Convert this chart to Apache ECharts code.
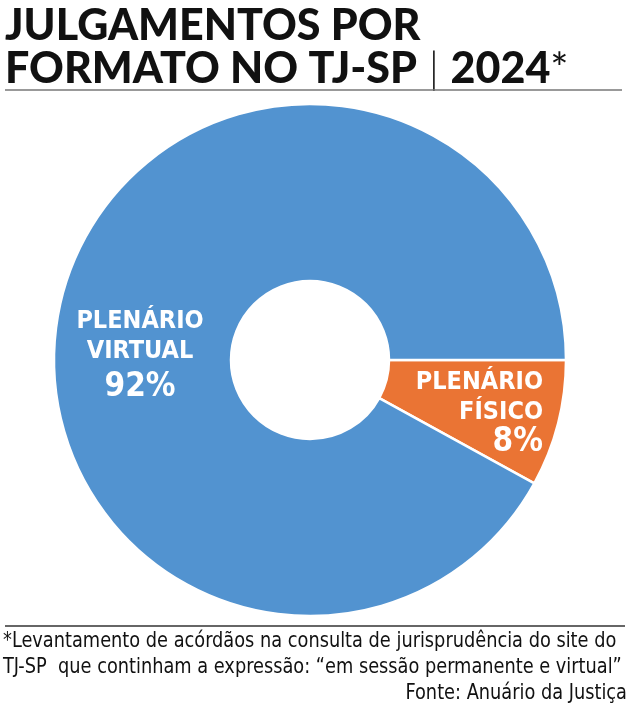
<!DOCTYPE html>
<html><head><meta charset="utf-8">
<script src="https://cdn.jsdelivr.net/npm/echarts@6/dist/echarts.min.js"></script>
<style>html,body{margin:0;padding:0;background:#fff}#c{width:634px;height:720px}</style>
</head><body><div id="c"></div>
<script>
const titleLine1 = 'JULGAMENTOS POR';
const titleLine2 = ['FORMATO NO TJ-SP', '|', '2024', '*'];
const categories = ['PLENÁRIO\nFÍSICO', 'PLENÁRIO\nVIRTUAL'];
const values = [8, 92];
const colors = ['#EA7434', '#5293D0'];
const footLines = ['*Levantamento de acórdãos na consulta de jurisprudência do site do', 'TJ-SP  que continham a expressão: “em sessão permanente e virtual”'];
const sourceText = 'Fonte: Anuário da Justiça';

const labelPos = [
  {x: 543, y: 412, align: 'right', pctLH: 30},
  {x: 140, y: 357, align: 'center', pctLH: 42}
];
const COND = '"DejaVu Sans Condensed"';
const FS = 0.94;

const chart = echarts.init(document.getElementById('c'), null, {renderer: 'canvas'});
chart.setOption({
  animation: false,
  graphic: [
    {type: 'text', left: 5, top: 5, style: {text: titleLine1, font: '900 43px Lato', fill: '#111'}},
    {type: 'text', left: 5, top: 48, style: {
      text: '{t|' + titleLine2[0] + '}{b| ' + titleLine2[1] + ' }{t|' + titleLine2[2] + '}{s|' + titleLine2[3] + '}',
      rich: {
        t: {fontFamily: 'Lato', fontWeight: 900, fontSize: 43, fill: '#111'},
        b: {fontFamily: 'Lato', fontWeight: 300, fontSize: 43, fill: '#111'},
        s: {fontFamily: 'Lato', fontWeight: 400, fontSize: 43, fill: '#111'}
      }}},
    {type: 'line', shape: {x1: 5, y1: 90, x2: 622, y2: 90}, style: {stroke: '#777', lineWidth: 1.5}},
    {type: 'line', shape: {x1: 5, y1: 626, x2: 625, y2: 626}, style: {stroke: '#333', lineWidth: 1.5}},
    {type: 'text', x: 3, y: 631, scaleX: FS, style: {text: footLines[0], font: '21px ' + COND, fill: '#111'}},
    {type: 'text', x: 3, y: 657, scaleX: FS, style: {text: footLines[1], font: '21px ' + COND, fill: '#111'}},
    {type: 'text', x: 627, y: 683, scaleX: FS, style: {text: sourceText, font: '21px ' + COND, fill: '#111', align: 'right'}}
  ],
  series: [{
    type: 'pie',
    center: [310, 360],
    radius: [79, 256],
    startAngle: 0,
    clockwise: true,
    itemStyle: {borderColor: '#fff', borderWidth: 2.5},
    label: {
      show: true,
      position: 'inside',
      formatter: p => p.name.split('\n').map(s => '{a|' + s + '}').join('\n') + '\n{b|' + p.value + '%}'
    },
    labelLine: {show: false},
    labelLayout: p => ({x: labelPos[p.dataIndex].x, y: labelPos[p.dataIndex].y, align: labelPos[p.dataIndex].align, verticalAlign: 'middle'}),
    data: categories.map((c, i) => ({
      name: c, value: values[i], itemStyle: {color: colors[i]},
      label: {rich: {
        a: {fontFamily: 'DejaVu Sans Condensed', fontWeight: 'bold', fontSize: 25, color: '#fff', lineHeight: 30},
        b: {fontFamily: 'DejaVu Sans Condensed', fontWeight: 'bold', fontSize: 33, color: '#fff', lineHeight: labelPos[i].pctLH}
      }}
    }))
  }]
});
</script></body></html>
